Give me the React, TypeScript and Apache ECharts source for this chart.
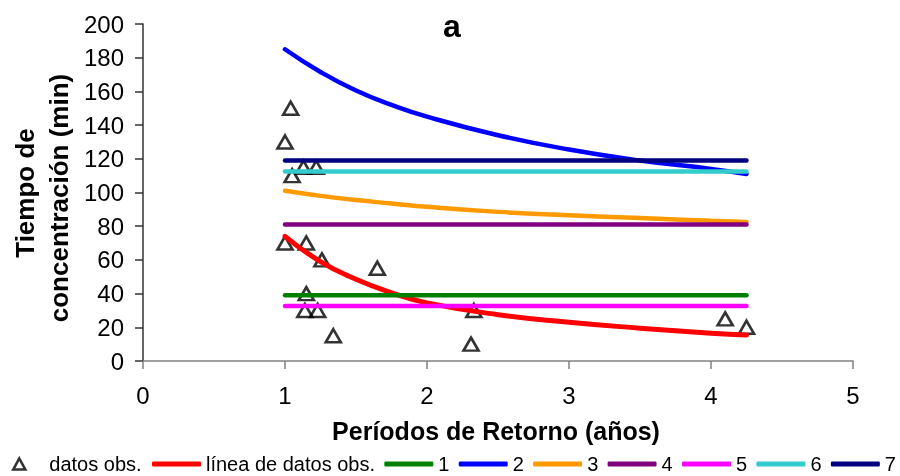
import React, { useEffect, useRef } from 'react';
import * as echarts from 'echarts';

const FONT = "'Liberation Sans', Arial, Helvetica, sans-serif";

// observed data (x = return period in years, y = concentration time in min)
const obsX = [1.0, 1.04, 1.05, 1.13, 1.22, 1.0, 1.15, 1.26, 1.65, 1.15, 1.14, 1.23, 1.34, 2.33, 2.31, 4.1, 4.25];
const obsY = [130, 150, 110, 115, 115, 70, 70, 60, 55, 40, 30, 30, 15, 30, 10, 25, 20];

// curves
const curveX = [1, 1.25, 1.5, 1.75, 2, 2.5, 3, 3.5, 4, 4.25];
const redY = [74, 59, 48.5, 40.5, 34.5, 27.5, 23, 19.5, 16.5, 15.4];
const blueY = [185, 171.5, 160.5, 152, 145, 134, 125.5, 119, 114, 111];
const orangeY = [101, 98, 95.5, 93.5, 91.5, 88.5, 86.5, 84.8, 83.3, 82.5];

// horizontal lines
const flatX = [1, 4.25];
const flatNames = ['1', '4', '5', '6', '7'];
const flatValues = [39, 81, 32.6, 112.5, 119];

const xTicks = [0, 1, 2, 3, 4, 5];
const yTicks = [0, 20, 40, 60, 80, 100, 120, 140, 160, 180, 200];

const legendNames = ['línea de datos obs.', '1', '2', '3', '4', '5', '6', '7'];
const colors: Record<string, string> = {
  'línea de datos obs.': '#FF0000',
  '1': '#008000',
  '2': '#0000FF',
  '3': '#FF9900',
  '4': '#800080',
  '5': '#FF00FF',
  '6': '#33CCCC',
  '7': '#000080',
};

function lineSeries(name: string, xs: number[], ys: number[], width: number, smooth: boolean) {
  return {
    name,
    type: 'line',
    data: xs.map((x, i) => [x, ys[i]]),
    smooth,
    showSymbol: false,
    symbol: 'none',
    color: colors[name],
    lineStyle: { color: colors[name], width, cap: 'round', join: 'round' },
    silent: true,
  };
}

export default function App() {
  const ref = useRef<HTMLDivElement>(null);
  useEffect(() => {
    if (!ref.current) return;
    const chart = echarts.init(ref.current, undefined, { renderer: 'svg' });
    const flatSeries = flatNames.map((n, i) =>
      lineSeries(n, flatX, flatX.map(() => flatValues[i]), 4.5, false)
    );
    const byName: Record<string, any> = {};
    flatSeries.forEach((s) => (byName[s.name] = s));
    const series: any[] = [
      {
        name: 'datos obs.',
        type: 'scatter',
        data: obsX.map((x, i) => [x, obsY[i]]),
        symbol: 'triangle',
        symbolSize: [15, 13],
        itemStyle: { color: 'rgba(255,255,255,0)', borderColor: '#000', borderWidth: 2.6 },
        silent: true,
      },
      lineSeries('línea de datos obs.', curveX, redY, 5, true),
      byName['1'],
      lineSeries('2', curveX, blueY, 4.5, true),
      lineSeries('3', curveX, orangeY, 4.5, true),
      byName['4'],
      byName['5'],
      byName['6'],
      byName['7'],
    ];
    chart.setOption({
      animation: false,
      grid: { left: 143, right: 47, top: 24, bottom: 115, containLabel: false },
      xAxis: {
        type: 'value',
        min: xTicks[0],
        max: xTicks[xTicks.length - 1],
        interval: 1,
        axisLine: { show: true, lineStyle: { color: '#808080', width: 1.5 } },
        axisTick: { show: true, length: 8, lineStyle: { color: '#808080', width: 1.5 } },
        splitLine: { show: false },
        axisLabel: { color: '#000', fontSize: 24, fontFamily: FONT, margin: 22 },
      },
      yAxis: {
        type: 'value',
        min: yTicks[0],
        max: yTicks[yTicks.length - 1],
        interval: 20,
        axisLine: { show: true, lineStyle: { color: '#333', width: 1.5 } },
        axisTick: { show: true, length: 8, lineStyle: { color: '#333', width: 1.5 } },
        splitLine: { show: false },
        axisLabel: { color: '#000', fontSize: 24, fontFamily: FONT, margin: 19 },
      },
      legend: [
        {
          data: [{ name: 'datos obs.', icon: 'triangle' }],
          left: 12,
          top: 454,
          padding: 0,
          itemWidth: 12,
          itemHeight: 11,
          selectedMode: false,
          itemStyle: { color: 'rgba(255,255,255,0)', borderColor: '#000', borderWidth: 2.6 },
          textStyle: { color: '#000', fontSize: 20, fontFamily: FONT, padding: [0, 0, 0, 19] },
        },
        {
          data: legendNames,
          left: 152,
          top: 454,
          width: 760,
          padding: 0,
          icon: 'roundRect',
          itemWidth: 49,
          itemHeight: 5,
          itemGap: 9.3,
          selectedMode: false,
          textStyle: { color: '#000', fontSize: 20, fontFamily: FONT },
        },
      ],
      graphic: [
        {
          type: 'text',
          x: 452,
          y: 26,
          style: { text: 'a', font: `bold 32px ${FONT}`, fill: '#000', align: 'center', verticalAlign: 'middle' },
        },
        {
          type: 'text',
          x: 25,
          y: 193,
          rotation: Math.PI / 2,
          style: { text: 'Tiempo de', font: `bold 26px ${FONT}`, fill: '#000', align: 'center', verticalAlign: 'middle' },
        },
        {
          type: 'text',
          x: 59,
          y: 198,
          rotation: Math.PI / 2,
          style: { text: 'concentración (min)', font: `bold 26px ${FONT}`, fill: '#000', align: 'center', verticalAlign: 'middle' },
        },
        {
          type: 'text',
          x: 496,
          y: 431,
          style: { text: 'Períodos de Retorno (años)', font: `bold 25px ${FONT}`, fill: '#000', align: 'center', verticalAlign: 'middle' },
        },
      ],
      series,
    });
    return () => chart.dispose();
  }, []);
  return <div ref={ref} style={{ position: 'fixed', left: 0, top: 0, width: 900, height: 476 }} />;
}
